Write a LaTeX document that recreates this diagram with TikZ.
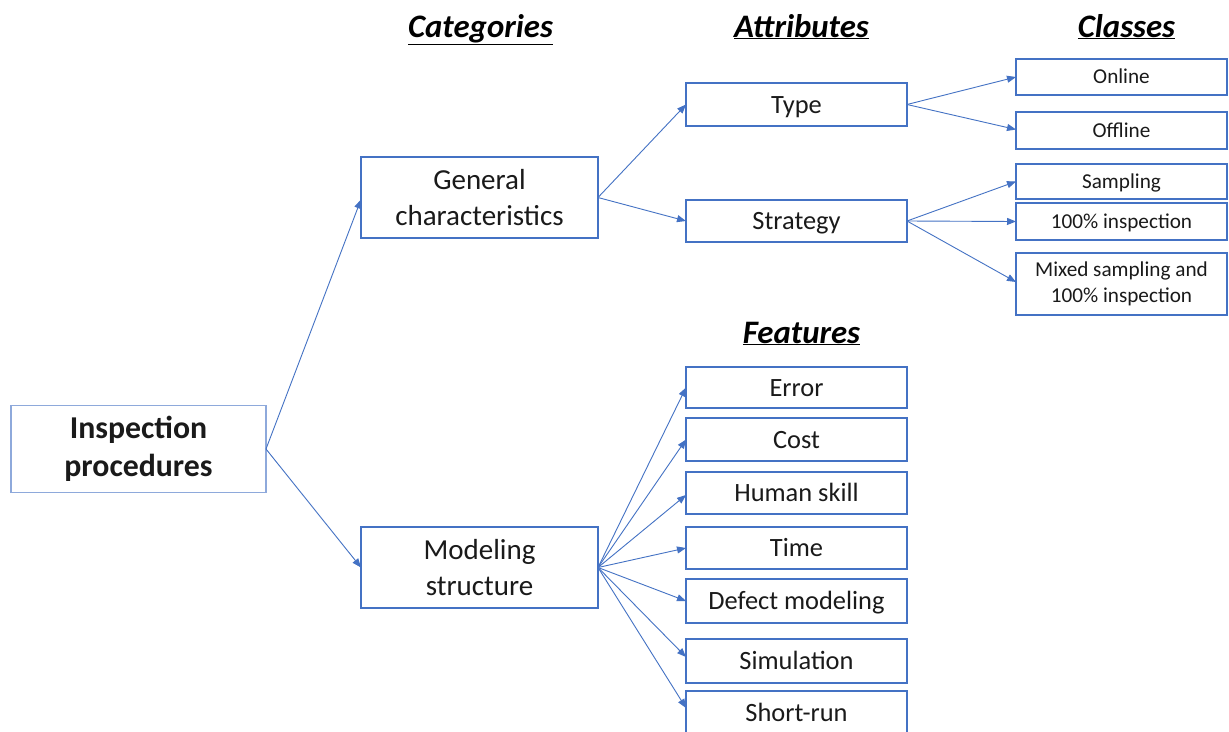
\documentclass[tikz,border=0pt]{standalone}
\usepackage{fontspec}
\setmainfont{Carlito}
\usetikzlibrary{arrows.meta,calc}
\definecolor{boxblue}{HTML}{4472C4}
\definecolor{lightblue}{HTML}{8EA9DB}
\definecolor{txt}{HTML}{1A1A1A}
\tikzset{
  bx/.style={draw=boxblue, line width=1.1pt, inner sep=0pt, outer sep=0pt, align=center, text=txt},
  catbox/.style={bx, minimum width=237pt, minimum height=81pt, font=\fontsize{29}{36}\selectfont},
  attrbox/.style={bx, minimum width=221pt, font=\fontsize{26.4}{32}\selectfont, text height=17pt, text depth=0pt},
  clsbox/.style={bx, minimum width=211pt, font=\fontsize{21.2}{26}\selectfont},
  onebox/.style={text height=13.6pt, text depth=0pt},
  hd/.style={font=\fontsize{32.8}{38}\selectfont\bfseries\itshape, text=black, inner sep=0pt, anchor=base},
  ar/.style={draw=boxblue, line width=0.9pt, -{Triangle[length=9pt,width=7pt]}}
}
\begin{document}
\begin{tikzpicture}[x=1pt,y=-1pt]
\clip (0,0) rectangle (1229,731);
\fill[white] (0,0) rectangle (1229,731);
% headings
\node[hd] (hcat) at (480.5,37) {\underline{Categories}};
\node[hd] (hatt) at (801.5,37) {\underline{Attributes}};
\node[hd] (hcls) at (1126.5,37) {\underline{Classes}};
\node[hd] (hfea) at (801.5,343) {\underline{Features}};
% root
\node[bx, draw=lightblue, minimum width=255pt, minimum height=87pt, font=\fontsize{31.8}{38}\selectfont\bfseries] (ip) at (138.5,449) {Inspection\\procedures};
% categories
\node[catbox] (gc) at (479.5,197.5) {General\\characteristics};
\node[catbox] (ms) at (479.5,567.5) {Modeling\\structure};
% attributes
\node[attrbox, minimum height=43pt] (type) at (796.5,104.5) {Type};
\node[attrbox, minimum height=42pt] (strat) at (796.5,221) {Strategy};
% classes
\node[clsbox, onebox, minimum height=36pt] (online) at (1121.5,77) {Online};
\node[clsbox, onebox, minimum height=37pt] (offline) at (1121.5,130.5) {Offline};
\node[clsbox, onebox, minimum height=35pt] (sampling) at (1121.5,181.5) {Sampling};
\node[clsbox, onebox, minimum height=37pt] (hundred) at (1121.5,221.5) {100\% inspection};
\node[clsbox, minimum height=62pt] (mixed) at (1121.5,284) {Mixed sampling and\\100\% inspection};
% features
\node[attrbox, minimum height=41pt] (error) at (796.5,387.5) {Error};
\node[attrbox, minimum height=43pt] (cost) at (796.5,439.5) {Cost};
\node[attrbox, minimum height=42pt] (human) at (796.5,493) {Human skill};
\node[attrbox, minimum height=42pt] (time) at (796.5,548) {Time};
\node[attrbox, minimum height=44pt] (defect) at (796.5,601) {Defect modeling};
\node[attrbox, minimum height=44pt] (sim) at (796.5,661) {Simulation};
\node[attrbox, minimum height=44pt] (short) at (796.5,713) {Short-run};
% connectors
\draw[ar] (ip.east) -- ([yshift=-2pt]gc.west);
\draw[ar] (ip.east) -- (ms.west);
\draw[ar] (gc.east) -- (type.west);
\draw[ar] (gc.east) -- (strat.west);
\draw[ar] (type.east) -- (online.west);
\draw[ar] (type.east) -- ([yshift=1pt]offline.west);
\draw[ar] (strat.east) -- (sampling.west);
\draw[ar] (strat.east) -- (hundred.west);
\draw[ar] (strat.east) -- ([yshift=2pt]mixed.west);
\draw[ar] (ms.east) -- (error.west);
\draw[ar] (ms.east) -- (cost.west);
\draw[ar] (ms.east) -- ([yshift=-2pt]human.west);
\draw[ar] (ms.east) -- (time.west);
\draw[ar] (ms.east) -- (defect.west);
\draw[ar] (ms.east) -- ([yshift=4pt]sim.west);
\draw[ar] (ms.east) -- ([yshift=5pt]short.west);
\end{tikzpicture}
\end{document}
